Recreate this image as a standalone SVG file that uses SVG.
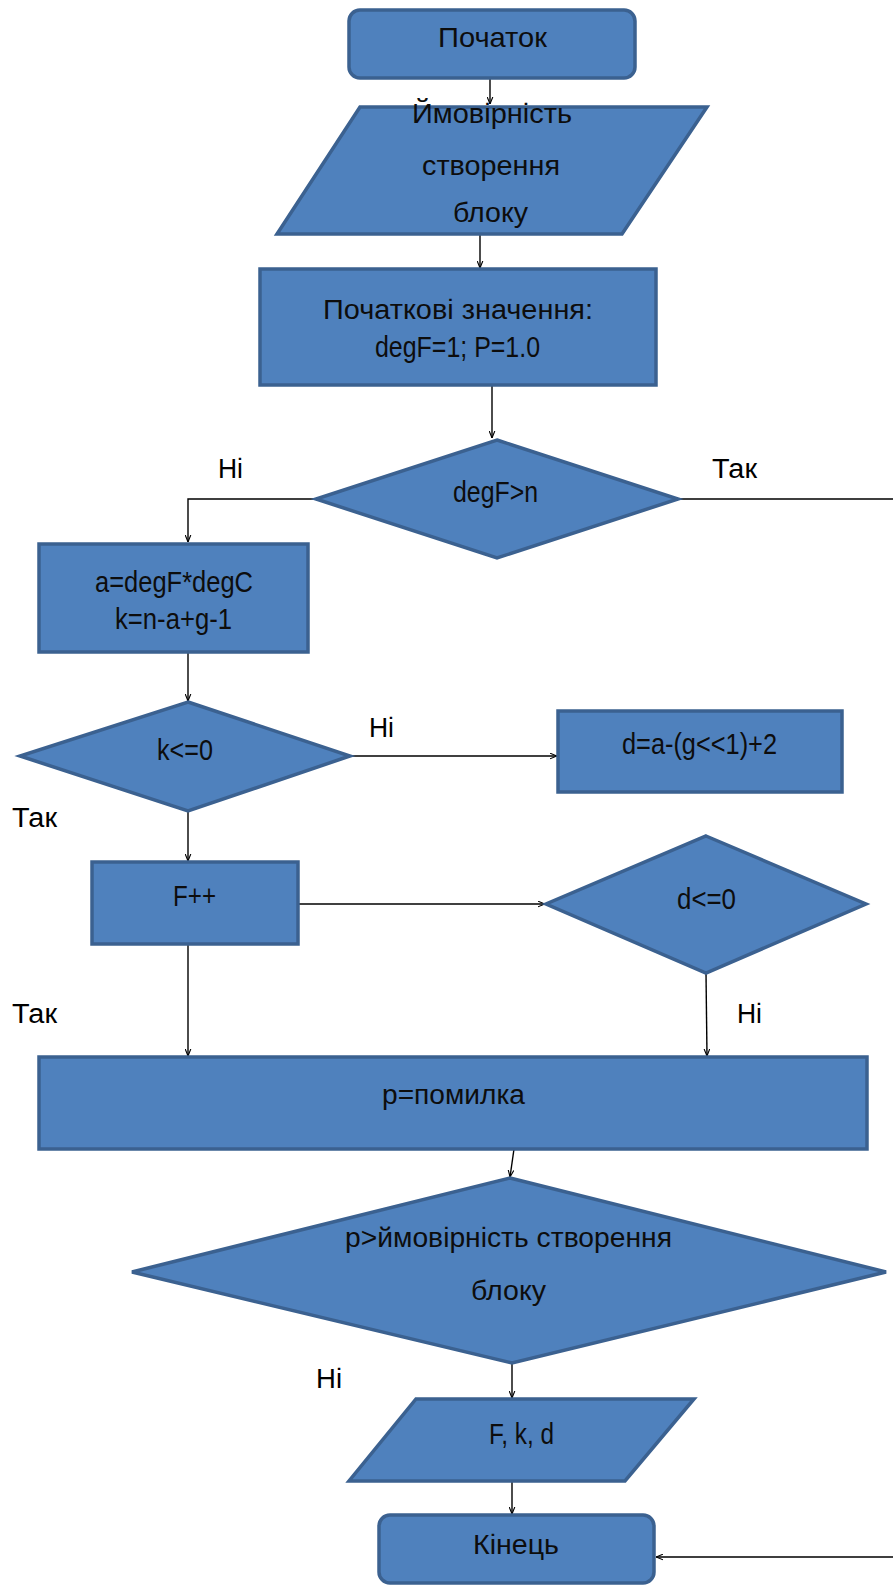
<svg xmlns="http://www.w3.org/2000/svg" width="893" height="1586" viewBox="0 0 893 1586">
  <defs>
    <marker id="arrow" viewBox="0 0 10 10" refX="10" refY="5" markerWidth="7" markerHeight="7" orient="auto" markerUnits="userSpaceOnUse">
      <path d="M0,1 L10,5 L0,9" fill="none" stroke="#000" stroke-width="1.6"/>
    </marker>
  </defs>
  <style>
    .shape { fill: #4f81bd; stroke: #3b6190; stroke-width: 3.5; stroke-linejoin: miter; }
    .line { fill: none; stroke: #000; stroke-width: 1.4; marker-end: url(#arrow); }
    .ar { font-family: "Liberation Sans", Arial, sans-serif; fill: #0d0d0d; }
    .ca { font-family: "Liberation Sans Narrow", "Liberation Sans", sans-serif; fill: #0d0d0d; }
    .lbl { font-family: "Liberation Sans", Arial, sans-serif; font-size: 27px; fill: #000; }
  </style>

  <g id="connectors">
    <path class="line" d="M490,78 V104"/>
    <path class="line" d="M480,234 V268"/>
    <path class="line" d="M492,385 V438"/>
    <path class="line" d="M316,499 H188 V542"/>
    <path class="line" d="M678,499 H910 V1557 H656"/>
    <path class="line" d="M188,652 V701"/>
    <path class="line" d="M350,756 H557"/>
    <path class="line" d="M188,811 V861"/>
    <path class="line" d="M298,904 H545"/>
    <path class="line" d="M706,973 L707,1056"/>
    <path class="line" d="M188,944 V1056"/>
    <path class="line" d="M514,1149 L510,1177"/>
    <path class="line" d="M512,1363 V1398"/>
    <path class="line" d="M512,1481 V1514"/>
  </g>

  <g id="start">
    <rect class="shape" x="349" y="10" width="286" height="68" rx="11"/>
    <text class="ar" x="438" y="47" font-size="28" textLength="109" lengthAdjust="spacingAndGlyphs">Початок</text>
  </g>

  <g id="input-probability">
    <polygon class="shape" points="360,107 707,107 622,234 277,234"/>
    <text class="ar" x="412" y="123" font-size="28" textLength="160" lengthAdjust="spacingAndGlyphs">Ймовірність</text>
    <text class="ar" x="422" y="175" font-size="28" textLength="138" lengthAdjust="spacingAndGlyphs">створення</text>
    <text class="ar" x="453" y="222" font-size="28" textLength="75" lengthAdjust="spacingAndGlyphs">блоку</text>
  </g>

  <g id="init">
    <rect class="shape" x="260" y="269" width="396" height="116"/>
    <text class="ar" x="323" y="319" font-size="27" textLength="270" lengthAdjust="spacingAndGlyphs">Початкові значення:</text>
    <text class="ca" x="375" y="357" font-size="29" textLength="165" lengthAdjust="spacingAndGlyphs">degF=1; P=1.0</text>
  </g>

  <g id="check-degF">
    <polygon class="shape" points="497,440 678,499 497,558 316,499"/>
    <text class="ca" x="453" y="502" font-size="29" textLength="85" lengthAdjust="spacingAndGlyphs">degF&gt;n</text>
  </g>

  <g id="calc-a-k">
    <rect class="shape" x="39" y="544" width="269" height="108"/>
    <text class="ca" x="95" y="592" font-size="29" textLength="158" lengthAdjust="spacingAndGlyphs">a=degF*degC</text>
    <text class="ca" x="115" y="629" font-size="29" textLength="117" lengthAdjust="spacingAndGlyphs">k=n-a+g-1</text>
  </g>

  <g id="check-k">
    <polygon class="shape" points="188,702 350,756 188,811 20,756"/>
    <text class="ca" x="157" y="760" font-size="30" textLength="56" lengthAdjust="spacingAndGlyphs">k&lt;=0</text>
  </g>

  <g id="calc-d">
    <rect class="shape" x="558" y="711" width="284" height="81"/>
    <text class="ca" x="622" y="754" font-size="30" textLength="155" lengthAdjust="spacingAndGlyphs">d=a-(g&lt;&lt;1)+2</text>
  </g>

  <g id="inc-F">
    <rect class="shape" x="92" y="862" width="206" height="82"/>
    <text class="ca" x="173" y="906" font-size="30" textLength="43" lengthAdjust="spacingAndGlyphs">F++</text>
  </g>

  <g id="check-d">
    <polygon class="shape" points="706,836 866,904 706,973 546,904"/>
    <text class="ca" x="677" y="909" font-size="30" textLength="59" lengthAdjust="spacingAndGlyphs">d&lt;=0</text>
  </g>

  <g id="error">
    <rect class="shape" x="39" y="1057" width="828" height="92"/>
    <text class="ar" x="382" y="1104" font-size="27" textLength="143" lengthAdjust="spacingAndGlyphs">p=помилка</text>
  </g>

  <g id="check-p">
    <polygon class="shape" points="510,1178 886,1272 512,1363 132,1272"/>
    <text class="ar" x="345" y="1247" font-size="27" textLength="327" lengthAdjust="spacingAndGlyphs">p&gt;ймовірність створення</text>
    <text class="ar" x="471" y="1300" font-size="27" textLength="75" lengthAdjust="spacingAndGlyphs">блоку</text>
  </g>

  <g id="output">
    <polygon class="shape" points="416,1399 694,1399 625,1481 349,1481"/>
    <text class="ca" x="489" y="1444" font-size="29" textLength="65" lengthAdjust="spacingAndGlyphs">F, k, d</text>
  </g>

  <g id="end">
    <rect class="shape" x="379" y="1515" width="275" height="68" rx="11"/>
    <text class="ar" x="473" y="1554" font-size="28" textLength="86" lengthAdjust="spacingAndGlyphs">Кінець</text>
  </g>

  <g id="labels">
    <text class="lbl" x="218" y="478" textLength="25" lengthAdjust="spacingAndGlyphs">Ні</text>
    <text class="lbl" x="712" y="478" textLength="45" lengthAdjust="spacingAndGlyphs">Так</text>
    <text class="lbl" x="369" y="737" textLength="25" lengthAdjust="spacingAndGlyphs">Ні</text>
    <text class="lbl" x="12" y="827" textLength="45" lengthAdjust="spacingAndGlyphs">Так</text>
    <text class="lbl" x="12" y="1023" textLength="45" lengthAdjust="spacingAndGlyphs">Так</text>
    <text class="lbl" x="737" y="1023" textLength="25" lengthAdjust="spacingAndGlyphs">Ні</text>
    <text class="lbl" x="316" y="1388" textLength="26" lengthAdjust="spacingAndGlyphs">Ні</text>
  </g>
</svg>
